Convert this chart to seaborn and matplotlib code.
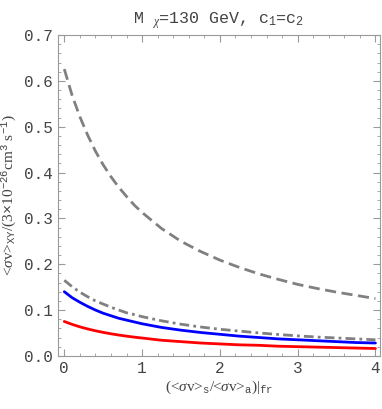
""" Annihilation cross section ratio plot. """
import numpy as np
import pandas as pd
import seaborn as sns
import matplotlib.pyplot as plt
from matplotlib.ticker import MultipleLocator

# values
ratio = [0.0, 0.1, 0.2, 0.3, 0.4, 0.5, 0.6, 0.7, 0.8, 0.9, 1.0,
         1.25, 1.5, 1.75, 2.0, 2.25, 2.5, 2.75, 3.0, 3.25, 3.5, 3.75, 4.0]
sv_dashed = [0.626, 0.569, 0.522, 0.482, 0.447, 0.417, 0.391, 0.368, 0.348,
             0.329, 0.313, 0.278, 0.250, 0.228, 0.209, 0.193, 0.179, 0.167,
             0.156, 0.147, 0.139, 0.132, 0.125]
sv_dashdot = [0.165, 0.151, 0.139, 0.129, 0.120, 0.113, 0.106, 0.100, 0.094,
              0.090, 0.0855, 0.0765, 0.069, 0.063, 0.058, 0.054, 0.050,
              0.0466, 0.0436, 0.041, 0.039, 0.037, 0.035]
sv_blue = [0.140, 0.127, 0.117, 0.108, 0.100, 0.093, 0.0875, 0.082, 0.078,
           0.074, 0.070, 0.062, 0.056, 0.051, 0.047, 0.043, 0.040, 0.037,
           0.035, 0.033, 0.031, 0.029, 0.028]
sv_red = [0.075, 0.0687, 0.0633, 0.0587, 0.0547, 0.0512, 0.0481, 0.0454,
          0.0430, 0.0408, 0.0389, 0.034, 0.031, 0.028, 0.026, 0.024, 0.023,
          0.021, 0.020, 0.019, 0.018, 0.017, 0.016]

sns.set_style("ticks")
plt.rcParams['font.family'] = ['Liberation Mono', 'DejaVu Sans']
plt.rcParams['mathtext.fontset'] = 'custom'
plt.rcParams['mathtext.rm'] = 'Liberation Mono'
plt.rcParams['mathtext.it'] = 'Liberation Serif:italic'

dframe = pd.DataFrame({'x': ratio, 'dashed': sv_dashed, 'dashdot': sv_dashdot,
                       'blue': sv_blue, 'red': sv_red})

fig = plt.figure(figsize=(3.82, 4.09), dpi=100)
ax = fig.add_axes([0.152, 0.130, 0.843, 0.784])

sns.lineplot(x='x', y='dashed', data=dframe, ax=ax, color='#808080',
             lw=2.0, linestyle=(0, (4, 2)))
sns.lineplot(x='x', y='dashdot', data=dframe, ax=ax, color='#808080',
             lw=2.0, linestyle=(0, (3.5, 1.5, 1, 1.5)))
sns.lineplot(x='x', y='blue', data=dframe, ax=ax, color='#0000ff', lw=2.0)
sns.lineplot(x='x', y='red', data=dframe, ax=ax, color='#ff0000', lw=2.0)

ax.set_xlim(-0.08, 4.06)
ax.set_ylim(0, 0.7)
ax.xaxis.set_major_locator(MultipleLocator(1))
ax.xaxis.set_minor_locator(MultipleLocator(0.2))
ax.yaxis.set_major_locator(MultipleLocator(0.1))
ax.yaxis.set_minor_locator(MultipleLocator(0.02))
ax.yaxis.set_major_formatter(lambda v, pos: f"{v:.1f}")
ax.tick_params(which='both', direction='in', top=True, right=True,
               color='#999999', labelcolor='#444444', labelsize=11.5)
ax.tick_params(which='major', length=5, width=0.8)
ax.tick_params(which='minor', length=2.5, width=0.6)
for spine in ax.spines.values():
    spine.set_color('#999999')
    spine.set_linewidth(0.8)

ax.set_title(r"M $_{\chi}$=130 GeV, c$_1$=c$_2$", fontsize=12,
             color='#444444', pad=8)
ax.set_xlabel(r"(<$\sigma$v>$_{\rm s}$/<$\sigma$v>$_{\rm a}$)|$_{\rm fr}$",
              family='Liberation Serif', fontsize=11, color='#444444',
              labelpad=2)
ax.set_ylabel(r"<$\sigma$v>$_{\rm XY}$/(3$\times$10$^{-26}$cm$^{3}$ s$^{-1}$)",
              family='Liberation Serif', fontsize=11, color='#444444')

fig.savefig('out.png', dpi=100)
